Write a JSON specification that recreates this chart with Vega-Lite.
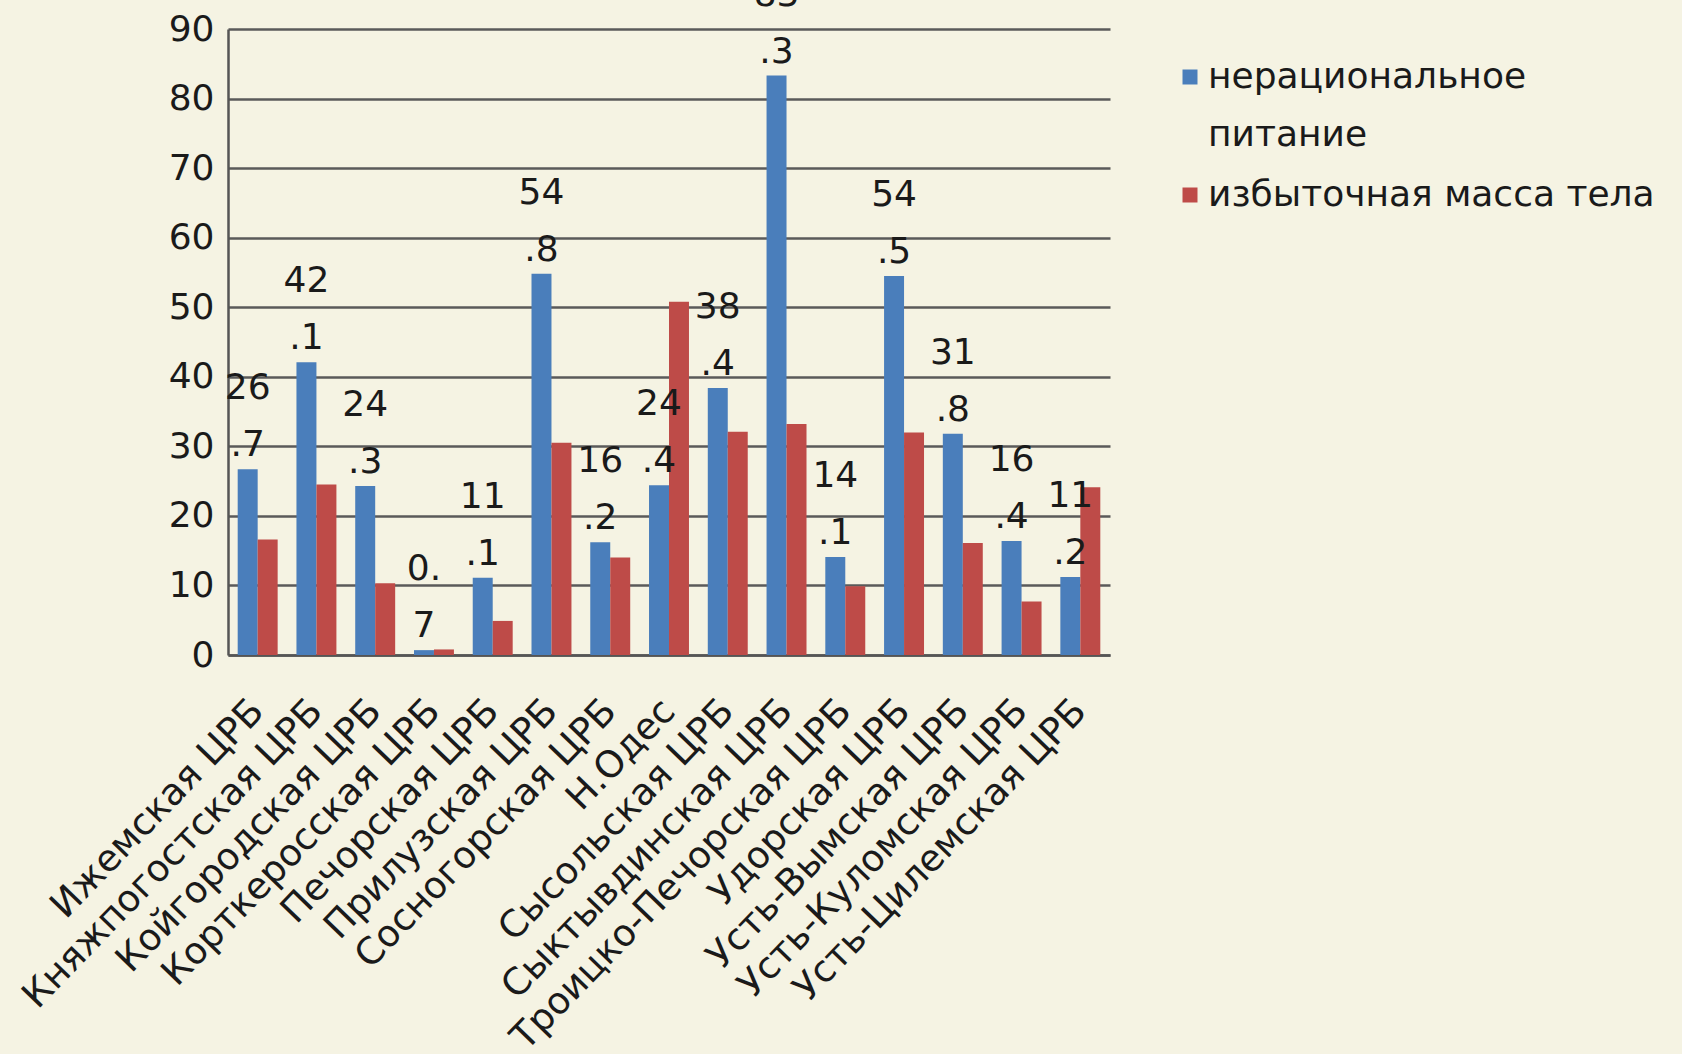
{
  "$schema": "https://vega.github.io/schema/vega-lite/v6.json",
  "autosize": {"type": "none"},
  "width": 882,
  "height": 626,
  "padding": {"left": 228, "top": 29, "right": 572, "bottom": 399},
  "background": "#f5f3e3",
  "config": {
    "view": {"stroke": null},
    "font": "DejaVu Sans",
    "axis": {"labelFont": "DejaVu Sans", "labelColor": "#1a1a1a", "ticks": false},
    "legend": {"labelFont": "DejaVu Sans"}
  },
  "data": {
    "values": [
      {"district": "Ижемская ЦРБ", "series": "нерациональное питание", "value": 26.7, "label": "26\n.7"},
      {"district": "Ижемская ЦРБ", "series": "избыточная масса тела", "value": 16.6},
      {"district": "Княжпогостская ЦРБ", "series": "нерациональное питание", "value": 42.1, "label": "42\n.1"},
      {"district": "Княжпогостская ЦРБ", "series": "избыточная масса тела", "value": 24.5},
      {"district": "Койгородская ЦРБ", "series": "нерациональное питание", "value": 24.3, "label": "24\n.3"},
      {"district": "Койгородская ЦРБ", "series": "избыточная масса тела", "value": 10.3},
      {"district": "Корткеросская ЦРБ", "series": "нерациональное питание", "value": 0.7, "label": "0.\n7"},
      {"district": "Корткеросская ЦРБ", "series": "избыточная масса тела", "value": 0.8},
      {"district": "Печорская ЦРБ", "series": "нерациональное питание", "value": 11.1, "label": "11\n.1"},
      {"district": "Печорская ЦРБ", "series": "избыточная масса тела", "value": 4.9},
      {"district": "Прилузская ЦРБ", "series": "нерациональное питание", "value": 54.8, "label": "54\n.8"},
      {"district": "Прилузская ЦРБ", "series": "избыточная масса тела", "value": 30.5},
      {"district": "Сосногорская ЦРБ", "series": "нерациональное питание", "value": 16.2, "label": "16\n.2"},
      {"district": "Сосногорская ЦРБ", "series": "избыточная масса тела", "value": 14.0},
      {"district": "Н.Одес", "series": "нерациональное питание", "value": 24.4, "label": "24\n.4"},
      {"district": "Н.Одес", "series": "избыточная масса тела", "value": 50.8},
      {"district": "Сысольская ЦРБ", "series": "нерациональное питание", "value": 38.4, "label": "38\n.4"},
      {"district": "Сысольская ЦРБ", "series": "избыточная масса тела", "value": 32.1},
      {"district": "Сыктывдинская ЦРБ", "series": "нерациональное питание", "value": 83.3, "label": "83\n.3"},
      {"district": "Сыктывдинская ЦРБ", "series": "избыточная масса тела", "value": 33.2},
      {"district": "Троицко-Печорская ЦРБ", "series": "нерациональное питание", "value": 14.1, "label": "14\n.1"},
      {"district": "Троицко-Печорская ЦРБ", "series": "избыточная масса тела", "value": 9.9},
      {"district": "Удорская ЦРБ", "series": "нерациональное питание", "value": 54.5, "label": "54\n.5"},
      {"district": "Удорская ЦРБ", "series": "избыточная масса тела", "value": 32.0},
      {"district": "Усть-Вымская ЦРБ", "series": "нерациональное питание", "value": 31.8, "label": "31\n.8"},
      {"district": "Усть-Вымская ЦРБ", "series": "избыточная масса тела", "value": 16.1},
      {"district": "Усть-Куломская ЦРБ", "series": "нерациональное питание", "value": 16.4, "label": "16\n.4"},
      {"district": "Усть-Куломская ЦРБ", "series": "избыточная масса тела", "value": 7.7},
      {"district": "Усть-Цилемская ЦРБ", "series": "нерациональное питание", "value": 11.2, "label": "11\n.2"},
      {"district": "Усть-Цилемская ЦРБ", "series": "избыточная масса тела", "value": 24.1}
    ]
  },
  "encoding": {
    "x": {
      "field": "district", "type": "nominal", "sort": null,
      "scale": {"paddingInner": 0.32, "paddingOuter": 0.165},
      "axis": {
        "title": null, "labelAngle": -46, "labelAlign": "right", "labelBaseline": "middle",
        "labelFontSize": 37, "labelPadding": 50, "labelLimit": 0, "domain": true,
        "domainColor": "#555555", "domainWidth": 2.5, "grid": false
      }
    },
    "xOffset": {
      "field": "series", "type": "nominal",
      "scale": {"domain": ["нерациональное питание", "избыточная масса тела"]}
    },
    "y": {
      "field": "value", "type": "quantitative",
      "scale": {"domain": [0, 90], "nice": false},
      "axis": {
        "title": null, "values": [0, 10, 20, 30, 40, 50, 60, 70, 80, 90],
        "labelFontSize": 36, "labelPadding": 14, "grid": true,
        "gridColor": "#5a5a5a", "gridWidth": 2.5, "domain": true,
        "domainColor": "#555555", "domainWidth": 2.5
      }
    }
  },
  "layer": [
    {
      "mark": {"type": "bar"},
      "encoding": {
        "color": {
          "field": "series", "type": "nominal",
          "scale": {"domain": ["нерациональное питание", "избыточная масса тела"], "range": ["#4a7ebb", "#be4b48"]},
          "legend": {
            "title": null, "orient": "none", "legendX": 944, "legendY": 30,
            "symbolType": "square", "symbolSize": 225, "symbolStrokeWidth": 0,
            "labelFontSize": 36, "labelLimit": 0, "labelColor": "#1a1a1a",
            "labelOffset": 0, "rowPadding": 24, "labelBaseline": "middle",
            "labelExpr": "datum.label == 'нерациональное питание' ? ['нерациональное', 'питание'] : datum.label",
            "encode": {"labels": {"update": {"lineHeight": {"value": 58}}}}
          }
        }
      }
    },
    {
      "transform": [{"filter": "isValid(datum.label)"}],
      "mark": {"type": "text", "fontSize": 36, "lineBreak": "\n", "lineHeight": 57, "baseline": "bottom", "dy": -62, "color": "#1a1a1a"},
      "encoding": {"text": {"field": "label"}}
    }
  ]
}
